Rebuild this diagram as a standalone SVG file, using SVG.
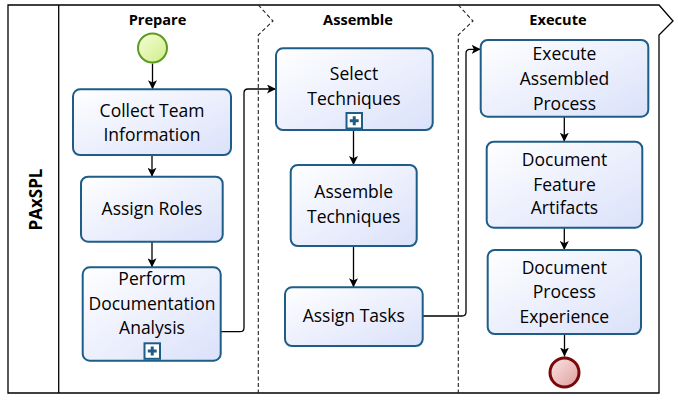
<svg xmlns="http://www.w3.org/2000/svg" width="678" height="402" viewBox="0 0 678 402">
<style>
.pool{fill:none;stroke:#000;stroke-width:1.3}
.lane{fill:none;stroke:#222;stroke-width:1.1;stroke-dasharray:4,2.5}
.hdr{font-family:"Open Sans","Noto Sans",sans-serif;font-weight:bold;font-size:14.6px;text-anchor:middle;fill:#000}
.task rect.b{fill:url(#tg);stroke:#1e5d88;stroke-width:2}
.task text{font-family:"Open Sans","Noto Sans",sans-serif;font-size:17.5px;text-anchor:middle;fill:#000}
.conn path{fill:none;stroke:#000;stroke-width:1.3}
.sub rect{fill:#fff;stroke:#1e5d88;stroke-width:2}
.sub path{fill:none;stroke:#1e5d88;stroke-width:3}
</style>
<defs>
<linearGradient id="tg" x1="0" y1="0" x2="1" y2="1">
<stop offset="0" stop-color="#ffffff"/>
<stop offset="1" stop-color="#dae1fa"/>
</linearGradient>
<linearGradient id="sg" x1="0" y1="0" x2="1" y2="1">
<stop offset="0" stop-color="#f7fdd8"/>
<stop offset="1" stop-color="#cdee88"/>
</linearGradient>
<linearGradient id="eg" x1="0" y1="0" x2="1" y2="1">
<stop offset="0" stop-color="#fae6e6"/>
<stop offset="1" stop-color="#e09c9c"/>
</linearGradient>
<marker id="ah" viewBox="0 0 10 10" refX="10" refY="5" markerWidth="9" markerHeight="9" markerUnits="userSpaceOnUse" orient="auto">
<path d="M0,0 L10,5 L0,10 L2.5,5 Z" fill="#000"/>
</marker>
</defs>

<g id="pool">
<path class="pool" d="M8,5 H659 L673,21 L659,35 V393 H8 Z"/>
<line class="pool" x1="58.7" y1="5" x2="58.7" y2="393"/>
<text x="41.5" y="199.5" transform="rotate(-90 41.5 199.5)" font-family="'Open Sans','Noto Sans',sans-serif" font-weight="bold" font-size="17px" text-anchor="middle" fill="#000">PAxSPL</text>
</g>

<g id="lanes">
<path class="lane" d="M258.3,5 L273,21 L258.3,35 V393"/>
<path class="lane" d="M458.3,5 L473,21 L458.3,35 V393"/>
<text class="hdr" x="157.5" y="24.7">Prepare</text>
<text class="hdr" x="358" y="24.7">Assemble</text>
<text class="hdr" x="558" y="24.7">Execute</text>
</g>

<g class="conn" id="connectors">
<path d="M152.5,63.5 V89.3" marker-end="url(#ah)"/>
<path d="M152,155 V176.7" marker-end="url(#ah)"/>
<path d="M152,241.7 V267.3" marker-end="url(#ah)"/>
<path d="M220.7,331.7 H240 Q244,331.7 244,327.7 V93 Q244,89 248,89 H276" marker-end="url(#ah)"/>
<path d="M353.5,130 V165" marker-end="url(#ah)"/>
<path d="M353.5,246 V287.3" marker-end="url(#ah)"/>
<path d="M422.7,316 H462 Q466,316 466,312 V53.3 Q466,49.3 470,49.3 H480.7" marker-end="url(#ah)"/>
<path d="M564.3,116.7 V141.7" marker-end="url(#ah)"/>
<path d="M564.3,227.7 V250" marker-end="url(#ah)"/>
<path d="M564.5,334 V356.5" marker-end="url(#ah)"/>
</g>

<g id="start">
<circle cx="152.5" cy="48" r="14.5" fill="url(#sg)" stroke="#5c9a20" stroke-width="2"/>
</g>

<g id="collect" class="task">
<rect class="b" x="73" y="89.3" width="158" height="65.7" rx="7"/>
<text x="152" y="116.7">Collect Team</text>
<text x="152" y="141">Information</text>
</g>

<g id="roles" class="task">
<rect class="b" x="81" y="176.7" width="141.7" height="65" rx="7"/>
<text x="152" y="215">Assign Roles</text>
</g>

<g id="perform" class="task">
<rect class="b" x="82.7" y="267.3" width="138" height="93.4" rx="7"/>
<text x="152" y="285">Perform</text>
<text x="152" y="309.5">Documentation</text>
<text x="152" y="334">Analysis</text>
<g class="sub"><rect x="144.5" y="343.3" width="15.5" height="15.5"/><path d="M152.25,346.5 V355.5 M147.8,351 H156.7"/></g>
</g>

<g id="select" class="task">
<rect class="b" x="276" y="48.3" width="156.7" height="81.7" rx="7"/>
<text x="354" y="80">Select</text>
<text x="354" y="105">Techniques</text>
<g class="sub"><rect x="346.5" y="113" width="15.5" height="15.5"/><path d="M354.25,116.2 V125.2 M349.8,120.7 H358.7"/></g>
</g>

<g id="assemble" class="task">
<rect class="b" x="290.7" y="165" width="126" height="81" rx="7"/>
<text x="353.7" y="198.3">Assemble</text>
<text x="353.7" y="223.3">Techniques</text>
</g>

<g id="tasks" class="task">
<rect class="b" x="285" y="287.3" width="137.7" height="58.7" rx="7"/>
<text x="353.8" y="321.7">Assign Tasks</text>
</g>

<g id="execute" class="task">
<rect class="b" x="480.7" y="40" width="167.6" height="76.7" rx="7"/>
<text x="564.5" y="60">Execute</text>
<text x="564.5" y="85">Assembled</text>
<text x="564.5" y="110">Process</text>
</g>

<g id="feature" class="task">
<rect class="b" x="486.7" y="141.7" width="155.6" height="86" rx="7"/>
<text x="564.5" y="166">Document</text>
<text x="564.5" y="190.5">Feature</text>
<text x="564.5" y="214">Artifacts</text>
</g>

<g id="experience" class="task">
<rect class="b" x="487.7" y="250" width="153.3" height="84" rx="7"/>
<text x="564.3" y="274.3">Document</text>
<text x="564.3" y="298.3">Process</text>
<text x="564.3" y="322.7">Experience</text>
</g>

<g id="end">
<circle cx="564.5" cy="372.5" r="14.5" fill="url(#eg)" stroke="#7a0808" stroke-width="3"/>
</g>
</svg>
